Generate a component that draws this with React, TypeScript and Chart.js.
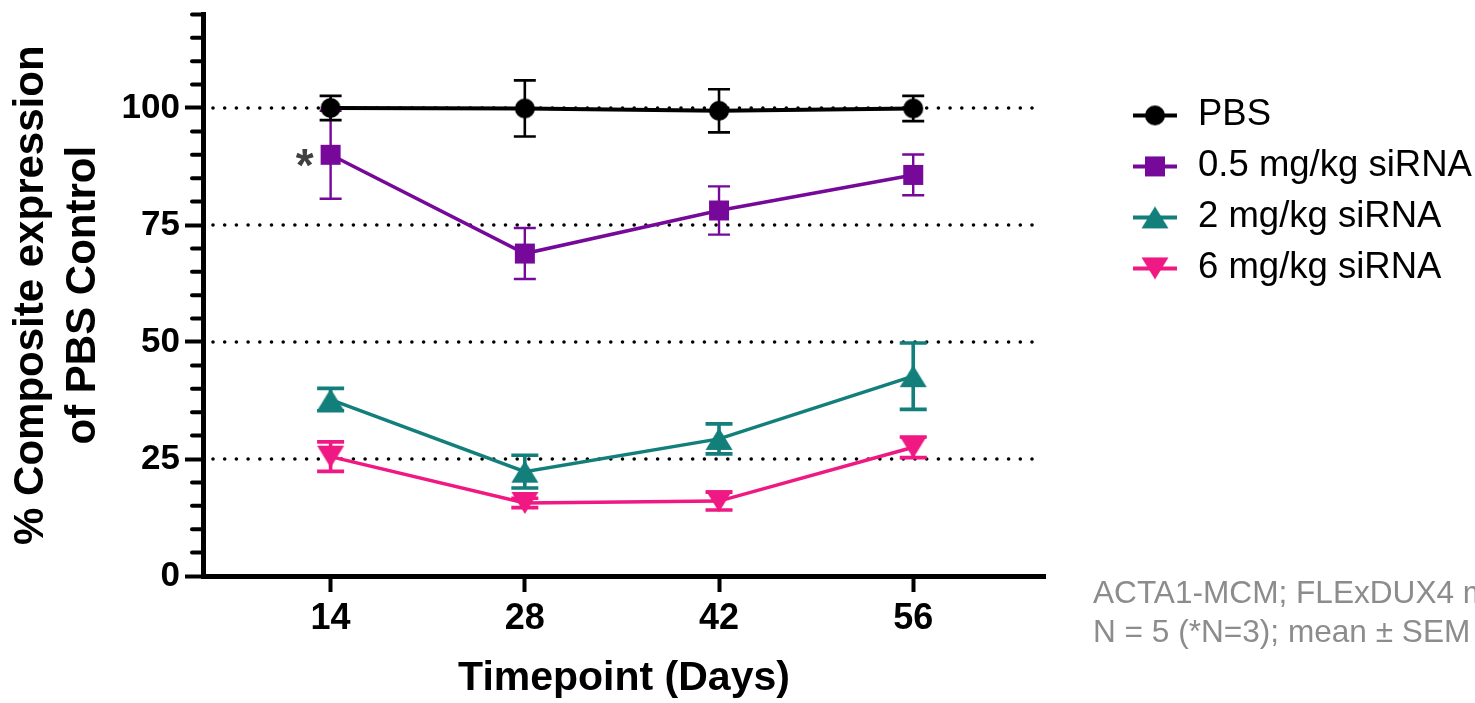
import React, { useEffect, useRef } from 'react';
import { Chart, registerables } from 'chart.js';

Chart.register(...registerables);

// ---------- data ----------
const timepoints = [14, 28, 42, 56];
const seriesNames = ['PBS', '0.5 mg/kg siRNA', '2 mg/kg siRNA', '6 mg/kg siRNA'];
const pbsMean = [100, 99.9, 99.4, 99.9];
const pbsSem = [2.6, 6.0, 4.6, 2.7];
const low05Mean = [90, 68.9, 78.1, 85.7];
const low05Sem = [9.4, 5.45, 5.15, 4.35];
const mid2Mean = [37.7, 22.3, 29.3, 42.7];
const mid2Sem = [2.4, 3.5, 3.2, 7.1];
const high6Mean = [25.5, 15.6, 16.0, 27.5];
const high6Sem = [3.15, 1.0, 1.9, 2.2];
const yMajorTicks = [0, 25, 50, 75, 100];
const yMinorStep = 5;
const dottedGridValues = [25, 50, 75, 100];
const yTitleLines = ['% Composite expression', 'of PBS Control'];
const xTitle = 'Timepoint (Days)';
const noteLines = ['ACTA1-MCM; FLExDUX4 mice', 'N = 5 (*N=3); mean \u00b1 SEM'];
const starLabel = '*';

const FONT = "'Liberation Sans', Arial, Helvetica, sans-serif";

const styles = [
  { color: '#000000', shape: 'circle', lineWidth: 4, capWidth: 22, errWidth: 2.6 },
  { color: '#76089a', shape: 'square', lineWidth: 3.5, capWidth: 22, errWidth: 2.4 },
  { color: '#127f7a', shape: 'up', lineWidth: 3.5, capWidth: 27, errWidth: 3.6 },
  { color: '#f01882', shape: 'down', lineWidth: 3.5, capWidth: 27, errWidth: 3.6 },
];

function makeMarker(shape: string, color: string): HTMLCanvasElement {
  const c = document.createElement('canvas');
  const W = 30;
  const H = 30;
  c.width = W;
  c.height = H;
  const g = c.getContext('2d')!;
  g.fillStyle = color;
  const cx = W / 2;
  const cy = H / 2;
  g.beginPath();
  if (shape === 'circle') {
    g.arc(cx, cy, 10, 0, Math.PI * 2);
  } else if (shape === 'square') {
    g.rect(cx - 10, cy - 10, 20, 20);
  } else if (shape === 'up') {
    g.moveTo(cx, cy - 11);
    g.lineTo(cx + 13.5, cy + 11);
    g.lineTo(cx - 13.5, cy + 11);
    g.closePath();
  } else {
    g.moveTo(cx, cy + 11);
    g.lineTo(cx + 13.5, cy - 11);
    g.lineTo(cx - 13.5, cy - 11);
    g.closePath();
  }
  g.fill();
  return c;
}

const decorPlugin = {
  id: 'decor',
  beforeDatasetsDraw(chart: any) {
    const { ctx, chartArea, scales } = chart;
    const y = scales.y;
    ctx.save();
    // dotted reference lines
    ctx.strokeStyle = '#000';
    ctx.lineWidth = 3.6;
    ctx.lineCap = 'round';
    ctx.setLineDash([0, 11.7]);
    dottedGridValues.forEach((v) => {
      const py = y.getPixelForValue(v);
      ctx.beginPath();
      ctx.moveTo(chartArea.left + 10, py);
      ctx.lineTo(chartArea.right - 4, py);
      ctx.stroke();
    });
    ctx.setLineDash([]);
    // minor ticks
    ctx.lineWidth = 4;
    ctx.lineCap = 'round';
    for (let v = y.min; v <= y.max + 1e-6; v += yMinorStep) {
      if (yMajorTicks.includes(v)) continue;
      const py = y.getPixelForValue(v);
      ctx.beginPath();
      ctx.moveTo(chartArea.left - 11, py);
      ctx.lineTo(chartArea.left, py);
      ctx.stroke();
    }
    ctx.restore();
  },
  beforeDatasetDraw(chart: any, args: any) {
    const i = args.index;
    const ds = chart.data.datasets[i];
    const st = styles[i];
    const meta = chart.getDatasetMeta(i);
    const y = chart.scales.y;
    const { ctx } = chart;
    ctx.save();
    ctx.strokeStyle = st.color;
    ctx.lineWidth = st.errWidth;
    ctx.lineCap = 'butt';
    meta.data.forEach((pt: any, j: number) => {
      const v = ds.data[j].y;
      const e = ds.errorBars[j];
      const yt = y.getPixelForValue(v + e);
      const yb = y.getPixelForValue(v - e);
      const hw = st.capWidth / 2;
      ctx.beginPath();
      ctx.moveTo(pt.x, yt);
      ctx.lineTo(pt.x, yb);
      ctx.moveTo(pt.x - hw, yt);
      ctx.lineTo(pt.x + hw, yt);
      ctx.moveTo(pt.x - hw, yb);
      ctx.lineTo(pt.x + hw, yb);
      ctx.stroke();
    });
    ctx.restore();
  },
  afterDraw(chart: any) {
    const { ctx, chartArea } = chart;
    ctx.save();
    // legend
    const lx = chartArea.right + 110;
    chart.data.datasets.forEach((ds: any, i: number) => {
      const ly = chartArea.top + 101 + i * 51;
      ctx.strokeStyle = styles[i].color;
      ctx.lineWidth = 4;
      ctx.beginPath();
      ctx.moveTo(lx - 22, ly);
      ctx.lineTo(lx + 22, ly);
      ctx.stroke();
      const mk = ds.pointStyle as HTMLCanvasElement;
      ctx.drawImage(mk, lx - mk.width / 2, ly - mk.height / 2);
      ctx.fillStyle = '#000';
      ctx.font = `36.5px ${FONT}`;
      ctx.textAlign = 'left';
      ctx.textBaseline = 'middle';
      ctx.fillText(ds.label, lx + 43, ly);
    });
    // footnote
    ctx.fillStyle = '#8c8c8c';
    ctx.font = `31.6px ${FONT}`;
    ctx.textBaseline = 'alphabetic';
    noteLines.forEach((t, i) => {
      ctx.fillText(t, chartArea.right + 48, chartArea.bottom + 27 + i * 39);
    });
    // asterisk next to first 0.5 mg/kg point
    const p = chart.getDatasetMeta(1).data[0];
    ctx.fillStyle = '#404040';
    ctx.font = `bold 46px ${FONT}`;
    ctx.textAlign = 'center';
    const m = ctx.measureText(starLabel);
    const cy = p.y + 3;
    ctx.fillText(starLabel, p.x - 26, cy + (m.actualBoundingBoxAscent - m.actualBoundingBoxDescent) / 2);
    ctx.restore();
  },
};

export default function App() {
  const ref = useRef<HTMLCanvasElement>(null);
  useEffect(() => {
    Chart.defaults.font.family = FONT;
    const means = [pbsMean, low05Mean, mid2Mean, high6Mean];
    const sems = [pbsSem, low05Sem, mid2Sem, high6Sem];
    const datasets = seriesNames.map((name, i) => {
      const marker = makeMarker(styles[i].shape, styles[i].color);
      return {
        label: name,
        data: timepoints.map((t, j) => ({ x: t, y: means[i][j] })),
        errorBars: sems[i],
        borderColor: styles[i].color,
        backgroundColor: styles[i].color,
        borderWidth: styles[i].lineWidth,
        pointStyle: marker,
        pointRadius: 10,
        pointHoverRadius: 10,
        tension: 0,
        fill: false,
        clip: false,
      };
    });
    const chart = new Chart(ref.current!, {
      type: 'line',
      data: { datasets: datasets as any },
      options: {
        animation: false,
        responsive: false,
        devicePixelRatio: 1,
        events: [],
        layout: { padding: { left: 0, top: 14.4, right: 430, bottom: 0 } },
        plugins: {
          legend: { display: false },
          tooltip: { enabled: false },
        },
        scales: {
          x: {
            type: 'linear',
            min: 4.8,
            max: 65.5,
            afterBuildTicks: (s: any) => {
              s.ticks = timepoints.map((v) => ({ value: v }));
            },
            afterFit: (s: any) => {
              s.height = 127;
              s.paddingLeft = 0;
              s.paddingRight = 0;
            },
            ticks: {
              color: '#000',
              font: { size: 36, weight: 'bold' },
              padding: 5,
              maxRotation: 0,
              autoSkip: false,
            },
            grid: {
              drawOnChartArea: false,
              drawTicks: true,
              tickLength: 16,
              tickWidth: 4,
              tickColor: '#000',
            },
            border: { display: true, color: '#000', width: 5 },
            title: {
              display: true,
              text: xTitle,
              color: '#000',
              font: { size: 41, weight: 'bold' },
              padding: { top: 0, bottom: 0 },
            },
          },
          y: {
            type: 'linear',
            min: 0,
            max: 120,
            afterBuildTicks: (s: any) => {
              s.ticks = yMajorTicks.map((v) => ({ value: v }));
            },
            afterFit: (s: any) => {
              s.width = 203;
              s.paddingTop = 0;
              s.paddingBottom = 0;
            },
            ticks: {
              color: '#000',
              font: { size: 35, weight: 'bold' },
              padding: 5,
              autoSkip: false,
            },
            grid: {
              drawOnChartArea: false,
              drawTicks: true,
              tickLength: 18,
              tickWidth: 4,
              tickColor: '#000',
            },
            border: { display: true, color: '#000', width: 5 },
            title: {
              display: true,
              text: yTitleLines,
              color: '#000',
              font: { size: 42, weight: 'bold', lineHeight: '52px' },
              padding: { top: 5, bottom: 0 },
            },
          },
        },
      },
      plugins: [decorPlugin],
    } as any);
    return () => chart.destroy();
  }, []);
  return (
    <div style={{ position: 'absolute', left: 0, top: 0, width: 1475, height: 703, background: '#fff', overflow: 'hidden' }}>
      <canvas ref={ref} width={1475} height={703} style={{ display: 'block' }} />
    </div>
  );
}
